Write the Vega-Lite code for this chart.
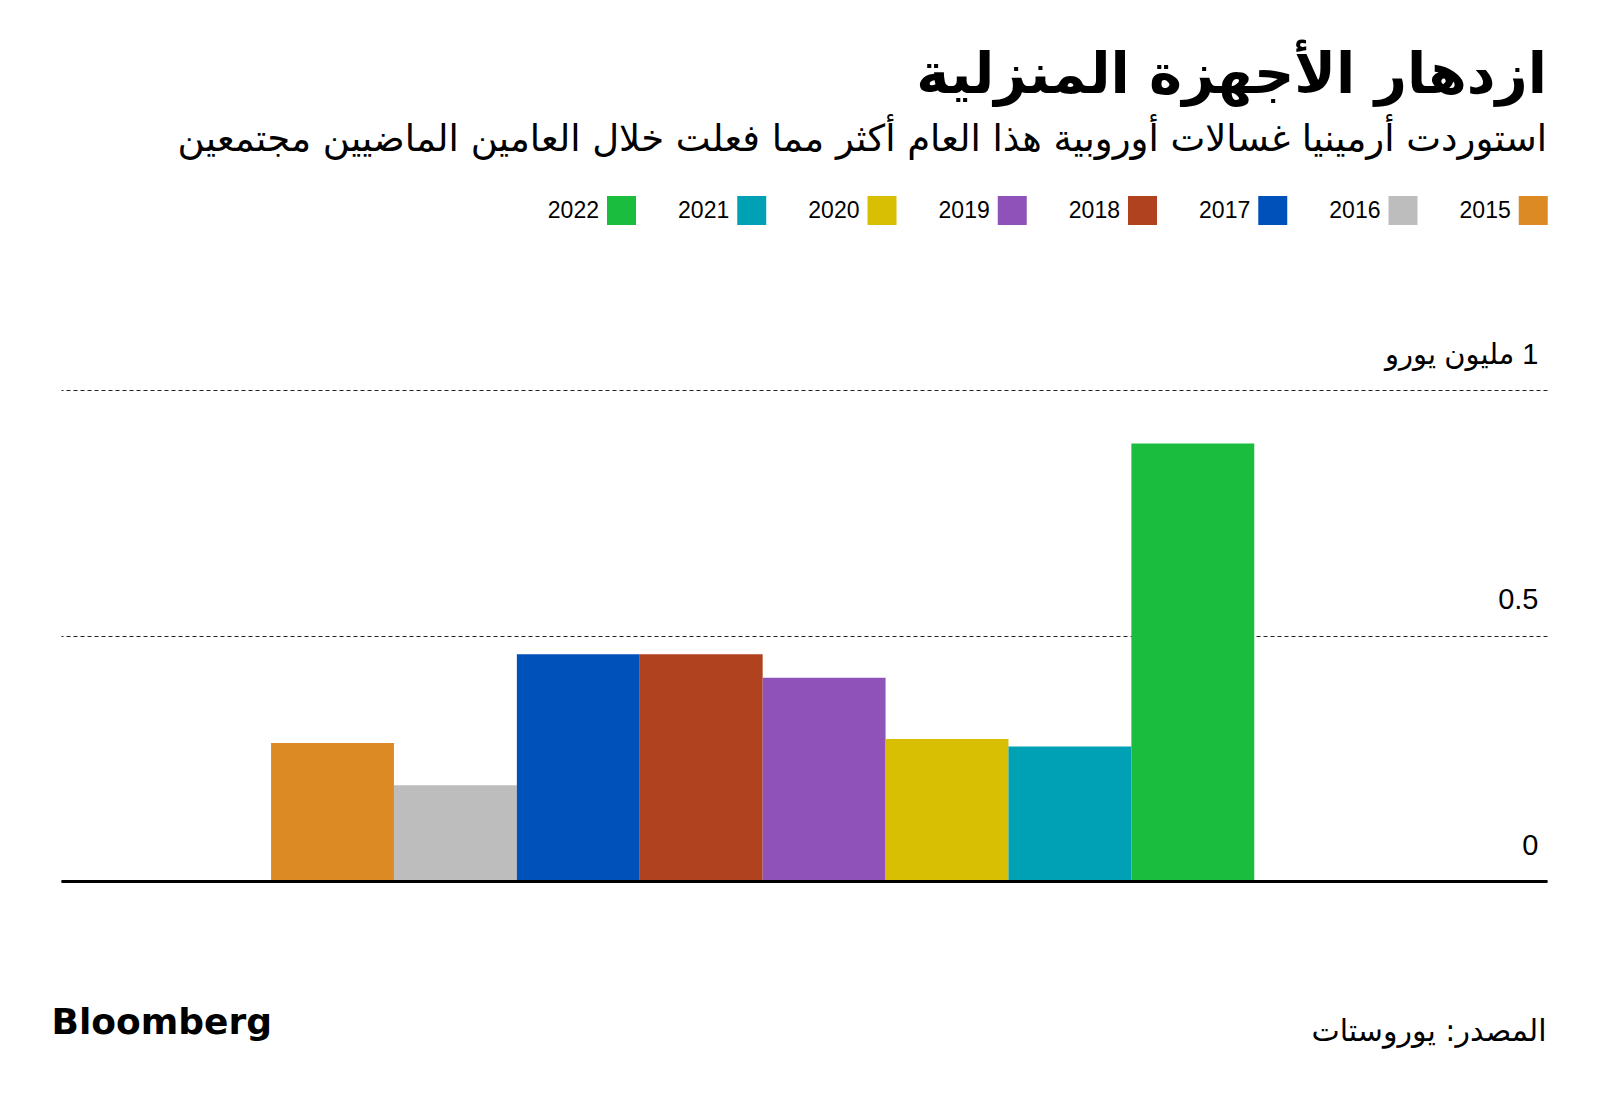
{
  "$schema": "https://vega.github.io/schema/vega-lite/v6.json",
  "autosize": "none",
  "width": 1486,
  "height": 491,
  "padding": {"left": 61, "top": 390, "right": 53, "bottom": 223},
  "background": "white",
  "title": {
    "text": "ازدهار الأجهزة المنزلية",
    "subtitle": "استوردت أرمينيا غسالات أوروبية هذا العام أكثر مما فعلت خلال العامين الماضيين مجتمعين",
    "anchor": "end",
    "frame": "group",
    "orient": "top",
    "font": "DejaVu Sans",
    "fontSize": 56,
    "fontWeight": "bold",
    "color": "#000000",
    "subtitleFont": "DejaVu Sans",
    "subtitleFontSize": 37,
    "subtitleColor": "#000000",
    "subtitlePadding": 17,
    "offset": 37
  },
  "data": {
    "values": [
      {"year": "2015", "value": 0.281},
      {"year": "2016", "value": 0.195},
      {"year": "2017", "value": 0.462},
      {"year": "2018", "value": 0.462},
      {"year": "2019", "value": 0.414},
      {"year": "2020", "value": 0.289},
      {"year": "2021", "value": 0.274},
      {"year": "2022", "value": 0.891}
    ]
  },
  "mark": {"type": "bar"},
  "encoding": {
    "x": {
      "field": "year",
      "type": "nominal",
      "scale": {
        "domain": ["_a", "2015", "2016", "2017", "2018", "2019", "2020", "2021", "2022", "_b", "_c"],
        "paddingInner": 0,
        "paddingOuter": 0.5455,
        "align": 0.65
      },
      "axis": {
        "orient": "bottom",
        "labels": false,
        "ticks": false,
        "domain": true,
        "domainColor": "#000000",
        "domainWidth": 3,
        "zindex": 1,
        "title": "المصدر: يوروستات",
        "titleFont": "DejaVu Sans",
        "titleFontSize": 30,
        "titleFontWeight": "normal",
        "titleColor": "#000000",
        "titleAnchor": "end",
        "titleAlign": "right",
        "titleBaseline": "alphabetic",
        "titleX": 1485,
        "titleY": 159
      }
    },
    "y": {
      "field": "value",
      "type": "quantitative",
      "scale": {"domain": [0, 1], "nice": false},
      "axis": {
        "orient": "right",
        "values": [0, 0.5, 1],
        "grid": true,
        "gridDash": [4, 3],
        "gridColor": "#222222",
        "gridWidth": 1,
        "domain": false,
        "ticks": false,
        "tickSize": 0,
        "labelAlign": "right",
        "labelBaseline": "alphabetic",
        "labelPadding": -9,
        "labelOffset": -27,
        "labelFlush": false,
        "labelOverlap": false,
        "labelBound": false,
        "labelFont": "Liberation Sans, DejaVu Sans",
        "labelFontSize": 29,
        "labelColor": "#000000",
        "labelExpr": "datum.value == 1 ? '\u200F1 مليون يورو' : datum.value == 0.5 ? '0.5' : '0'",
        "title": "Bloomberg",
        "titleAngle": 0,
        "titleFont": "DejaVu Sans",
        "titleFontSize": 36,
        "titleFontWeight": "bold",
        "titleColor": "#000000",
        "titleAlign": "left",
        "titleBaseline": "alphabetic",
        "titleX": -1496,
        "titleY": 643
      }
    },
    "color": {
      "field": "year",
      "type": "nominal",
      "scale": {
        "domain": ["2022", "2021", "2020", "2019", "2018", "2017", "2016", "2015"],
        "range": ["#1bbd3e", "#00a0b5", "#d8bf04", "#8e52b8", "#b1421f", "#0051ba", "#bdbdbd", "#dc8a24"]
      },
      "legend": {
        "orient": "none",
        "legendX": 546,
        "legendY": -194,
        "direction": "horizontal",
        "title": null,
        "padding": 0,
        "symbolType": "square",
        "symbolSize": 841,
        "symbolStrokeWidth": 0,
        "symbolOpacity": 1,
        "labelAlign": "right",
        "labelBaseline": "middle",
        "labelOffset": -37,
        "labelFont": "Liberation Sans",
        "labelFontSize": 23,
        "labelColor": "#000000",
        "columnPadding": 41.25,
        "labelLimit": 200
      }
    }
  },
  "config": {
    "view": {"stroke": null}
  }
}
